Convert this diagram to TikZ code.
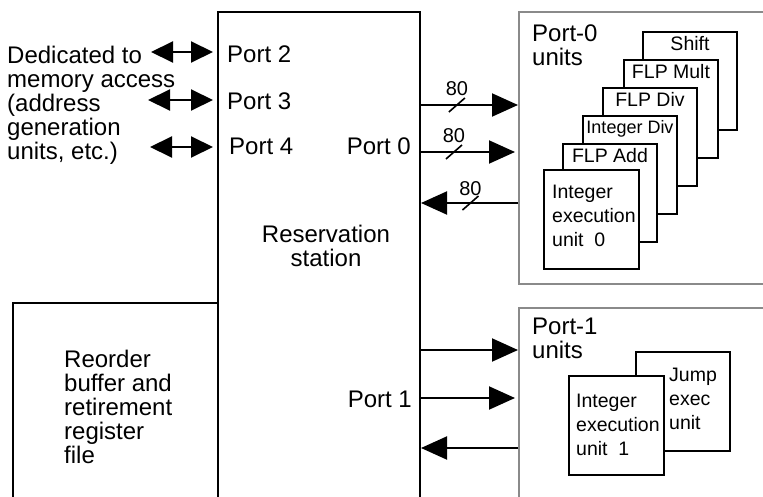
\documentclass[tikz,border=0pt]{standalone}
\usepackage{fontspec}
\setmainfont{Liberation Sans}
\usetikzlibrary{arrows.meta,positioning}
\definecolor{unitgray}{HTML}{8A8A8A}

\begin{document}
\begin{tikzpicture}[
  x=1pt, y=-1pt,
  font=\fontsize{24}{24}\selectfont,
  >={Triangle[length=26pt 0 0,width=23pt 0 0]},
  blockbox/.style={
    draw,
    line width=2pt,
    inner sep=0pt,
    anchor=north west
  },
  groupbox/.style={
    blockbox,
    draw=unitgray
  },
  unitbox/.style={
    blockbox,
    fill=white,
    minimum width=94pt,
    minimum height=98pt
  },
  unitname/.style={
    font=\fontsize{19.5}{24}\selectfont,
    anchor=north,
    inner sep=5pt
  },
  unittext/.style={
    font=\fontsize{19.5}{24}\selectfont,
    align=left,
    inner sep=0pt
  },
  plain/.style={
    inner sep=0pt,
    align=left
  },
  flow/.style={->, line width=2pt},
  memflow/.style={{Triangle[length=22pt 0 0,width=21pt 0 0]}-{Triangle[length=22pt 0 0,width=21pt 0 0]}, line width=2pt},
  tick/.style={line width=1.6pt},
  buslabel/.style={font=\fontsize{20}{20}\selectfont, inner sep=1pt}
]
  \useasboundingbox (0,0) rectangle (763,497);
  \clip (0,0) rectangle (763,497);

  % Main blocks
  \node[blockbox, minimum width=202pt, minimum height=510pt] (rs) at (217,11) {};
  \node[blockbox, minimum width=205pt, minimum height=220pt] (rob) at (12,302) {};
  \node[plain, align=center, anchor=north] (rslabel) at (326,225) {Reservation\\station};
  \node[plain, anchor=north west] (roblabel) at (64,350) {Reorder\\buffer and\\retirement\\register\\file};

  % Port labels
  \node[plain, anchor=base west] (port2) at (227,63) {Port 2};
  \node[plain, anchor=base west] (port3) at (227,110) {Port 3};
  \node[plain, anchor=base west] (port4) at (229,155) {Port 4};
  \node[plain, anchor=base east] (port0) at (411,155) {Port 0};
  \node[plain, anchor=base east] (port1) at (412,407) {Port 1};

  % Memory ports
  \node[plain, anchor=north west] (memtext) at (7,46) {Dedicated to\\memory access\\(address\\generation\\units, etc.)};
  \coordinate (m2) at (151,52);
  \coordinate (m3) at (148,100);
  \coordinate (m4) at (150,147);
  \draw[memflow, shorten >=4pt] (m2) -- (m2 -| rs.west);
  \draw[memflow, shorten >=4pt] (m3) -- (m3 -| rs.west);
  \draw[memflow, shorten >=4pt] (m4) -- (m4 -| rs.west);

  % Port-0 units
  \node[groupbox, minimum width=280pt, minimum height=272pt] (p0) at (518,11) {};
  \node[plain, anchor=north west] (p0label) at (532,25) {Port-0\\units};
  \node[unitbox, label={[unitname]north:Shift}] (u1) at (642,31) {};
  \node[unitbox, label={[unitname]north:FLP Mult}] (u2) at (623,59) {};
  \node[unitbox, label={[unitname]north:FLP Div}] (u3) at (602,87) {};
  \node[unitbox, label={[unitname, font=\fontsize{18}{24}\selectfont]north:Integer Div}] (u4) at (582,115) {};
  \node[unitbox, label={[unitname]north:FLP Add}] (u5) at (562,143) {};
  \node[unitbox, minimum width=95pt, minimum height=99pt] (u6) at (543,169) {};
  \node[unittext, below right=16pt and 9pt of u6.north west] (u6text) {Integer\\execution\\unit\ \ 0};

  % Port-1 units
  \node[groupbox, minimum width=280pt, minimum height=220pt] (p1) at (518,307) {};
  \node[plain, anchor=north west] (p1label) at (532,318) {Port-1\\units};
  \node[unitbox, minimum height=99pt] (jmp) at (635,351) {};
  \node[unittext, below right=17pt and 34pt of jmp.north west] (jmptext) {Jump\\exec\\unit};
  \node[unitbox, minimum width=95pt, minimum height=99pt] (ie1) at (568,375) {};
  \node[unittext, below right=19pt and 8pt of ie1.north west] (ie1text) {Integer\\execution\\unit\ \ 1};

  % Port 0 buses
  \draw[flow] (rs.east |- 0,105) -- (p0.west |- 0,105) coordinate[pos=.37] (b1);
  \draw[tick] ([shift={(-8,7)}]b1) -- ([shift={(8,-7)}]b1);
  \node[buslabel, above=8pt of b1] {80};
  \draw[flow, shorten >=3pt] (rs.east |- 0,152) -- (p0.west |- 0,152) coordinate[pos=.34] (b2);
  \draw[tick] ([shift={(-8,7)}]b2) -- ([shift={(8,-7)}]b2);
  \node[buslabel, above=8pt of b2] {80};
  \draw[flow] (p0.west |- 0,203) -- (rs.east |- 0,203) coordinate[pos=.49] (b3);
  \draw[tick] ([shift={(-8,7)}]b3) -- ([shift={(8,-7)}]b3);
  \node[buslabel, above=6pt of b3] {80};

  % Port 1 buses
  \draw[flow] (rs.east |- 0,350) -- (p1.west |- 0,350);
  \draw[flow, shorten >=3pt] (rs.east |- 0,398) -- (p1.west |- 0,398);
  \draw[flow] (p1.west |- 0,448) -- (rs.east |- 0,448);

\end{tikzpicture}
\end{document}
